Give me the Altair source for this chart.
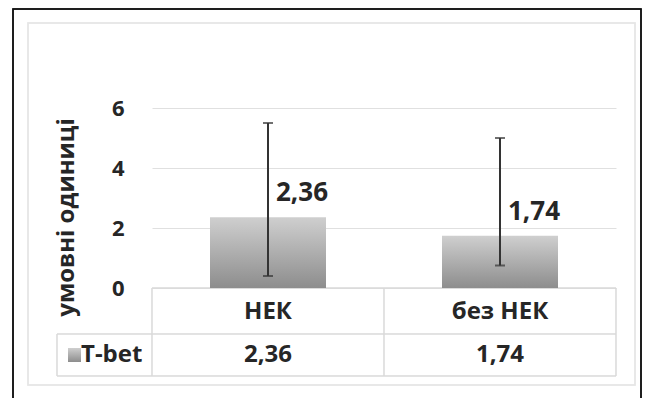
import altair as alt
import pandas as pd

categories = ["НЕК", "без НЕК"]
values = [2.36, 1.74]
err_low = [0.4, 0.75]
err_high = [5.5, 5.0]
series_name = "T-bet"
y_ticks = [0, 2, 4, 6]
y_title = "умовні одиниці"

df = pd.DataFrame({"cat": categories, "value": values, "lo": err_low, "hi": err_high})

FONT = "Open Sans"
TXT = "#262626"
GRID = "#e0e0e0"
LINE = "#d9d9d9"

grad = alt.LinearGradient(
    gradient="linear",
    stops=[alt.GradientStop(color="#cfcfcf", offset=0),
           alt.GradientStop(color="#8d8d8d", offset=1)],
    x1=0, x2=0, y1=0, y2=1,
)

yaxis = alt.Axis(
    values=y_ticks, title=y_title, domain=False, ticks=False,
    labelFont=FONT, labelFontSize=22, labelFontWeight="bold", labelColor=TXT,
    labelPadding=28, gridColor=GRID,
    titleFont=FONT, titleFontSize=24, titleFontWeight="bold", titleColor=TXT,
    titleX=-86, titleY=109, titleAngle=270, titleAlign="center", titleBaseline="middle",
)
yscale = alt.Scale(domain=[0, 6], nice=False)
X = alt.X("cat:N", sort=categories, scale=alt.Scale(paddingInner=0.5, paddingOuter=0.25), axis=None)

base = alt.Chart(df).transform_calculate(
    label="replace(format(datum.value, '.2f'), '.', ',')"
)

def hrule(x1, x2, y, color=LINE, w=1):
    return alt.Chart(df).mark_rule(color=color, strokeWidth=w).encode(
        x=alt.value(x1), x2=alt.value(x2), y=alt.value(y))

def vrule(x, y1, y2, color=LINE, w=1):
    return alt.Chart(df).mark_rule(color=color, strokeWidth=w).encode(
        x=alt.value(x), y=alt.value(y1), y2=alt.value(y2))

outer = alt.Chart(df).mark_rect(fillOpacity=0, stroke="#111111", strokeWidth=1.5).encode(
    x=alt.value(-139), x2=alt.value(489), y=alt.value(-99), y2=alt.value(400))
inner = alt.Chart(df).mark_rect(fillOpacity=0, stroke="#e6e6e6", strokeWidth=1.5).encode(
    x=alt.value(-124), x2=alt.value(483), y=alt.value(-85), y2=alt.value(277))

bars = base.mark_bar(color=grad).encode(
    x=X, y=alt.Y("value:Q", scale=yscale, axis=yaxis))

err = base.mark_rule(color="#333333", strokeWidth=2).encode(
    x=X, y=alt.Y("lo:Q", scale=yscale, axis=yaxis), y2="hi:Q")
cap_hi = base.mark_tick(color="#333333", thickness=2, size=10).encode(
    x=X, y=alt.Y("hi:Q", scale=yscale, axis=yaxis))
cap_lo = base.mark_tick(color="#333333", thickness=2, size=10).encode(
    x=X, y=alt.Y("lo:Q", scale=yscale, axis=yaxis))

labels = base.mark_text(align="left", baseline="middle", dx=8, dy=-24,
                        font=FONT, fontSize=26, fontWeight="bold", color=TXT).encode(
    x=X, y=alt.Y("value:Q", scale=yscale, axis=yaxis), text="label:N")

tbl_cat = base.mark_text(align="center", baseline="middle", font=FONT, fontSize=24,
                         fontWeight="bold", color=TXT).encode(
    x=X, y=alt.value(204), text="cat:N")
tbl_val = base.mark_text(align="center", baseline="middle", font=FONT, fontSize=24,
                         fontWeight="bold", color=TXT).encode(
    x=X, y=alt.value(247), text="label:N")

sdf = pd.DataFrame({"s": [series_name]})
row_head = alt.Chart(sdf).mark_text(align="left", baseline="middle", font=FONT, fontSize=24,
                                    fontWeight="bold", color=TXT).encode(
    x=alt.value(-71), y=alt.value(247), text="s:N")
swatch = alt.Chart(sdf).mark_rect(color=grad).encode(
    x=alt.value(-84), x2=alt.value(-71), y=alt.value(240), y2=alt.value(254))

lines = [
    hrule(-95, 464, 226), hrule(-95, 464, 268), hrule(0, 464, 180),
    vrule(0, 180, 268), vrule(232, 180, 268), vrule(464, 180, 268), vrule(-95, 226, 268),
]

chart = alt.layer(
    outer, inner, *lines, bars, err, cap_hi, cap_lo, labels, tbl_cat, tbl_val, row_head, swatch
).properties(
    width=464, height=180,
    autosize=alt.AutoSizeParams(type="none"),
    padding={"left": 144, "top": 100, "right": 27, "bottom": 110},
    background="white",
).configure_view(strokeWidth=0)

chart.save("out.html", embed_options={"renderer": "svg", "actions": False})
